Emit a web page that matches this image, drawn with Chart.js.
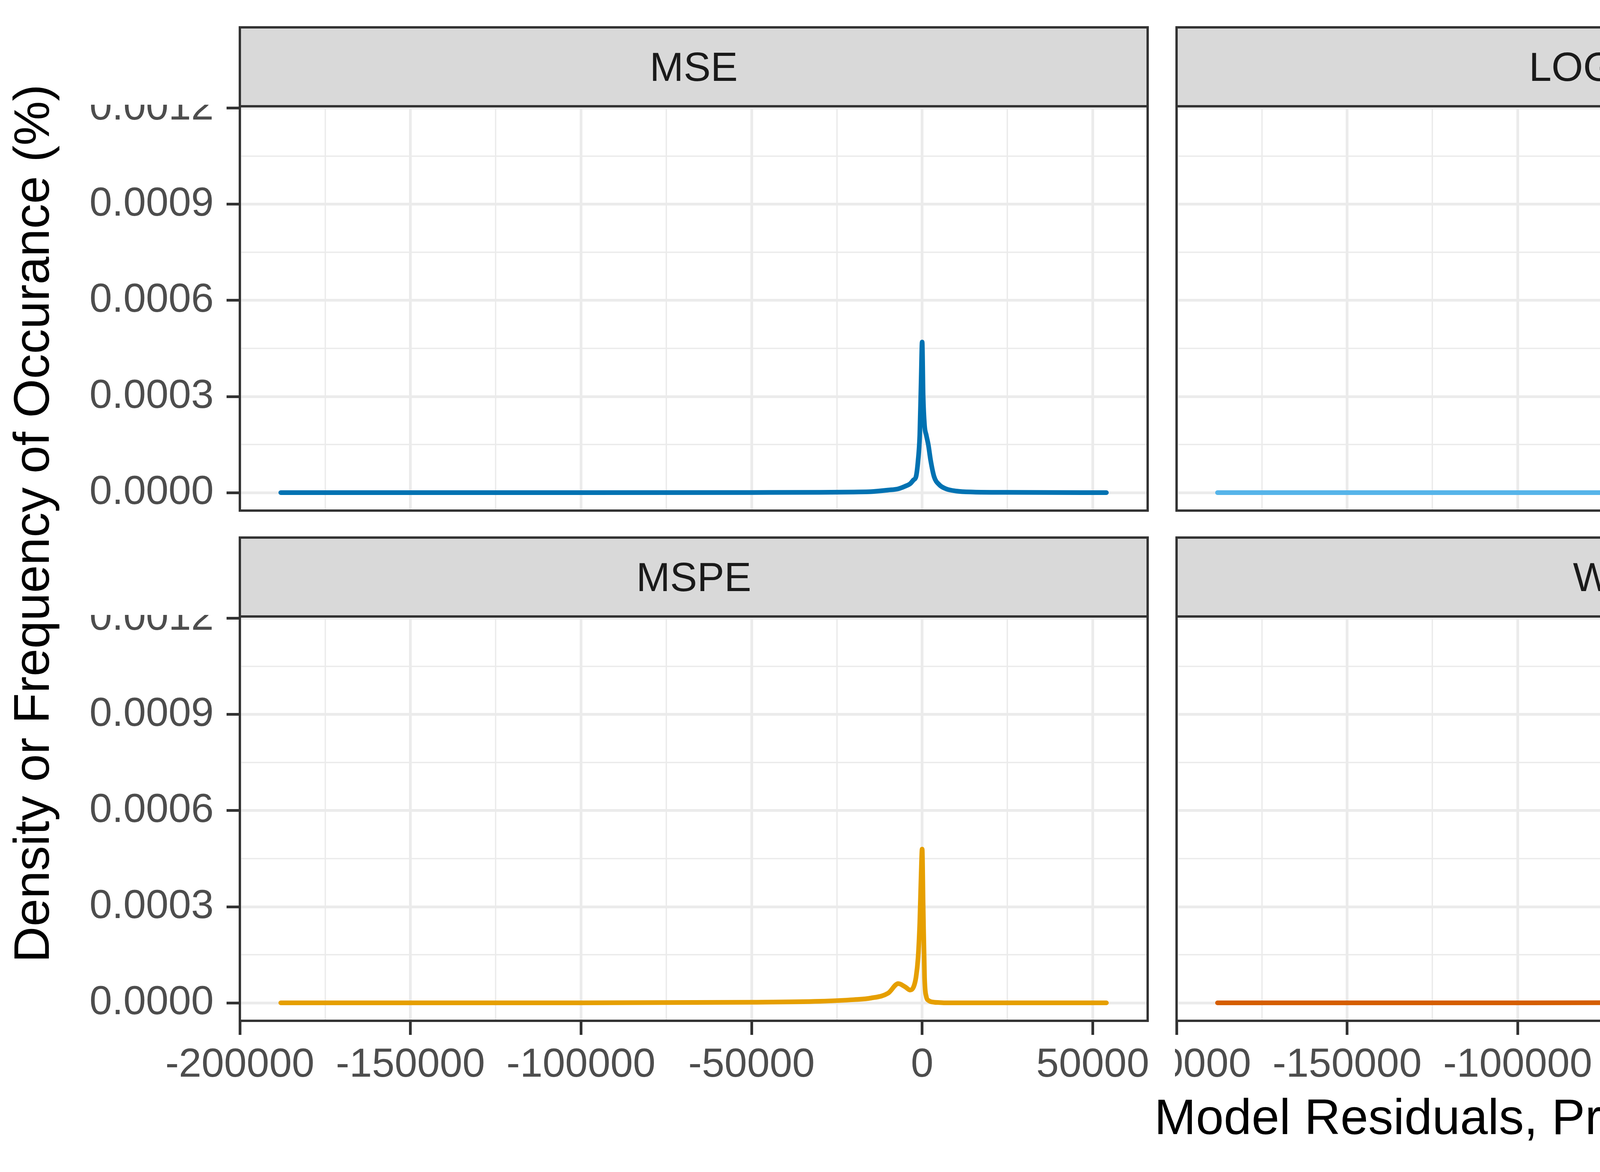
<!DOCTYPE html>
<html>
<head>
<meta charset="utf-8">
<script src="https://cdn.jsdelivr.net/npm/chart.js@4.4.1/dist/chart.umd.min.js"></script>
<style>
  html, body { margin: 0; background: #fff; }
  body { width: 7800px; height: 3000px; position: relative; overflow: hidden; font-family: "Liberation Sans", Arial, sans-serif; }
  canvas { position: absolute; }
  .strip { position: absolute; background: #D9D9D9; border: 6px solid #333; box-sizing: border-box; color: #1A1A1A; font-size: 104px; display: flex; align-items: center; justify-content: center; }
  .title { position: absolute; color: #000; font-size: 128px; white-space: nowrap; }
</style>
</head>
<body>
<div class="title" style="left:0;top:2785px;width:7800px;text-align:center;padding-left:550px;box-sizing:border-box;">Model Residuals, Predicted-Observed (cfs)</div>
<div class="title" style="left:80px;top:1340px;transform:translate(-50%,-50%) rotate(-90deg);">Density or Frequency of Occurance (%)</div>
<script>
const panelNames = ['MSE', 'LOGCOSH', 'MAE', 'MSPE', 'WLSE', 'LINEXE'];
const panelColors = ['#0072B2', '#56B4E9', '#009E73', '#E69F00', '#D55E00', '#CC79A7'];

const residuals = [-188000, -100000, -50000, -30000, -20000, -15000, -10000, -7000, -5000, -3500, -2500, -1800, -1200, -700, -300, 0, 300, 700, 1200, 1800, 2500, 3500, 5000, 7000, 10000, 15000, 25000, 54000];

const mse     = [0, 0, 0.0000005, 0.000001, 0.000002, 0.000003, 0.000008, 0.000012, 0.00002, 0.000028, 0.00004, 0.00005, 0.0001, 0.00018, 0.00035, 0.00047, 0.0003, 0.00021, 0.00018, 0.00015, 0.0001, 0.00005, 0.000025, 0.000012, 0.000005, 0.000002, 0.000001, 0];
const logcosh = [0, 0, 0, 0.000001, 0.000002, 0.000003, 0.000005, 0.000008, 0.000012, 0.00002, 0.00003, 0.00005, 0.0001, 0.00025, 0.0007, 0.00115, 0.0007, 0.00025, 0.00011, 0.00007, 0.00005, 0.00003, 0.000015, 0.000007, 0.000003, 0.000001, 0, 0];
const mae     = [0, 0, 0, 0.000001, 0.000002, 0.000003, 0.000005, 0.000008, 0.000012, 0.00002, 0.00003, 0.00005, 0.0001, 0.00022, 0.0006, 0.00094, 0.0006, 0.00022, 0.0001, 0.00006, 0.00004, 0.000025, 0.000012, 0.000006, 0.000003, 0.000001, 0, 0];
const mspe    = [0, 0, 0.000002, 0.000005, 0.00001, 0.000015, 0.00003, 0.00006, 0.00005, 0.00004, 0.00005, 0.00008, 0.00014, 0.00025, 0.0004, 0.00048, 0.0003, 0.00008, 0.00002, 0.000008, 0.000004, 0.000002, 0.000001, 0, 0, 0, 0, 0];
const wlse    = [0, 0, 0.000001, 0.000002, 0.000004, 0.000006, 0.00001, 0.000015, 0.00002, 0.00003, 0.00004, 0.00006, 0.0001, 0.00016, 0.0002, 0.00021, 0.0002, 0.00016, 0.00011, 0.00008, 0.00007, 0.00005, 0.00003, 0.000015, 0.000006, 0.000002, 0.000001, 0];
const linexe  = [0, 0, 0.000001, 0.000002, 0.000003, 0.000005, 0.000007, 0.000009, 0.00001, 0.000015, 0.00005, 0.00012, 0.0002, 0.00028, 0.00026, 0.00022, 0.00017, 0.00014, 0.00012, 0.0001, 0.00006, 0.00004, 0.000035, 0.000025, 0.000006, 0.000002, 0.000001, 0];
const panelSeries = [mse, logcosh, mae, mspe, wlse, linexe];

const xTicks = [-200000, -175000, -150000, -125000, -100000, -75000, -50000, -25000, 0, 25000, 50000];
const yTicks = [0, 0.00015, 0.0003, 0.00045, 0.0006, 0.00075, 0.0009, 0.00105, 0.0012];

// layout (px)
const plotLefts = [614, 3012, 5410];
const plotW = 2324;
const stripTops = [67, 1373];
const plotTops = [272, 1578];
const plotH = 1035;
const yAxisW = 614;
const xAxisH = 180;
const pad = 4;

const borderPlugin = {
  id: 'panelBorder',
  afterDraw(chart) {
    const a = chart.chartArea, c = chart.ctx;
    c.save();
    c.strokeStyle = '#333333';
    c.lineWidth = 6;
    c.strokeRect(a.left, a.top, a.right - a.left, a.bottom - a.top);
    c.restore();
  }
};

function noPadding(s) {
  s.paddingTop = 0; s.paddingBottom = 0; s.paddingLeft = 0; s.paddingRight = 0;
}

panelNames.forEach((name, i) => {
  const col = i % 3, row = Math.floor(i / 3);
  const leftAxis = col === 0, bottomAxis = row === 1;

  const strip = document.createElement('div');
  strip.className = 'strip';
  strip.textContent = name;
  strip.style.left = (plotLefts[col] - 3) + 'px';
  strip.style.top = stripTops[row] + 'px';
  strip.style.width = (plotW + 6) + 'px';
  strip.style.height = (plotTops[row] - stripTops[row] + 3) + 'px';
  document.body.appendChild(strip);

  const cv = document.createElement('canvas');
  const yw = leftAxis ? yAxisW : 0;
  const xh = bottomAxis ? xAxisH : 0;
  const w = yw + plotW + pad * 2;
  const h = plotH + xh + pad * 2;
  cv.width = w; cv.height = h;
  cv.style.left = (plotLefts[col] - yw - pad) + 'px';
  cv.style.top = (plotTops[row] - pad) + 'px';
  cv.style.width = w + 'px'; cv.style.height = h + 'px';
  document.body.appendChild(cv);

  const values = panelSeries[i];
  new Chart(cv.getContext('2d'), {
    type: 'line',
    data: {
      datasets: [{
        data: residuals.map((x, k) => ({ x: x, y: values[k] })),
        borderColor: panelColors[i],
        borderWidth: 12,
        borderCapStyle: 'round',
        borderJoinStyle: 'round',
        pointRadius: 0,
        cubicInterpolationMode: 'monotone',
        fill: false
      }]
    },
    plugins: [borderPlugin],
    options: {
      responsive: false,
      animation: false,
      devicePixelRatio: 1,
      layout: { padding: pad },
      plugins: { legend: { display: false }, tooltip: { enabled: false } },
      scales: {
        x: {
          type: 'linear', min: -200000, max: 66100,
          afterBuildTicks: s => { s.ticks = xTicks.map(v => ({ value: v })); },
          afterFit: s => { s.height = xh; noPadding(s); },
          border: { display: false },
          grid: {
            color: '#EBEBEB',
            lineWidth: c => (c.tick && c.tick.value % 50000 === 0) ? 7 : 3.5,
            drawTicks: bottomAxis, tickLength: 36, tickWidth: 7,
            tickColor: c => (c.tick && c.tick.value % 50000 === 0) ? '#333333' : 'rgba(0,0,0,0)'
          },
          ticks: {
            display: bottomAxis, autoSkip: false, maxRotation: 0, minRotation: 0, padding: 16,
            color: '#4D4D4D', font: { size: 104, family: '"Liberation Sans", Arial, sans-serif' },
            callback: v => v % 50000 === 0 ? String(v) : ''
          }
        },
        y: {
          type: 'linear', min: -0.000056, max: 0.001206,
          afterBuildTicks: s => { s.ticks = yTicks.map(v => ({ value: v })); },
          afterFit: s => { s.width = yw; noPadding(s); },
          border: { display: false },
          grid: {
            color: '#EBEBEB',
            lineWidth: c => (c.tick && Math.round(c.tick.value * 1e5) % 30 === 0) ? 7 : 3.5,
            drawTicks: leftAxis, tickLength: 34, tickWidth: 7,
            tickColor: c => (c.tick && Math.round(c.tick.value * 1e5) % 30 === 0) ? '#333333' : 'rgba(0,0,0,0)'
          },
          ticks: {
            display: leftAxis, autoSkip: false, padding: 33,
            color: '#4D4D4D', font: { size: 104, family: '"Liberation Sans", Arial, sans-serif' },
            callback: v => Math.round(v * 1e5) % 30 === 0 ? v.toFixed(4) : ''
          }
        }
      }
    }
  });
});
</script>
</body>
</html>
